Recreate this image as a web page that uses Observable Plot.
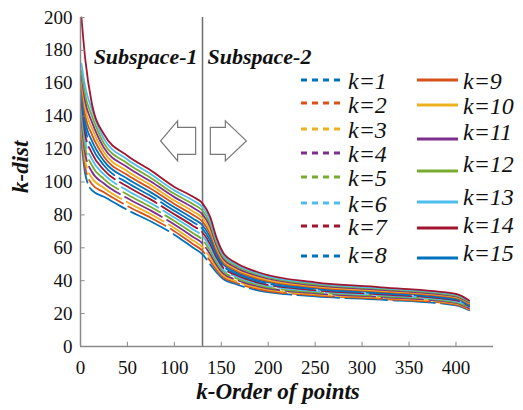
<!DOCTYPE html>
<html><head><meta charset="utf-8">
<script src="https://cdn.jsdelivr.net/npm/d3@7"></script>
<script src="https://cdn.jsdelivr.net/npm/@observablehq/plot@0.6"></script>
<style>
body{margin:0;background:#fff;font-family:"Liberation Serif",serif;}
#wrap{position:relative;width:523px;height:410px;}
.lg{position:absolute;font-family:"Liberation Serif",serif;font-style:italic;font-size:24px;line-height:24px;color:#111;white-space:nowrap;}
.ls{position:absolute;}
</style></head><body><div id="wrap"></div>
<script>
// x positions (order of points) at which each k-dist curve was read
const xs = [1,5,12,25,50,75,100,120,130,138,145,152,165,190,250,320,400,414];
const k1  = [125,105,95,91,83,76,68,60,56,50,45,41,38,34,30.5,28.5,25,22];
const k2  = [130,109,98.8,93.7,85.4,78.2,70.1,62.2,58.2,52.1,46.5,42.1,38.9,34.8,31.1,29.0,25.5,22.4];
const k3  = [134,113,102.6,96.4,87.7,80.4,72.1,64.4,60.4,54.1,48,43.3,39.9,35.6,31.7,29.6,26,22.9];
const k4  = [138,117,106.4,99.1,90.1,82.6,74.2,66.6,62.6,56.2,49.5,44.4,40.8,36.4,32.3,30.1,26.5,23.3];
const k5  = [142,121,110.2,101.8,92.4,84.8,76.3,68.8,64.8,58.3,51,45.6,41.7,37.2,32.9,30.7,27,23.7];
const k6  = [146,125,114,104.6,94.8,87.1,78.4,71.1,67.1,60.4,52.5,46.7,42.7,38,33.6,31.2,27.5,24.2];
const k7  = [150,129,117.7,107.3,97.2,89.3,80.4,73.3,69.3,62.4,54,47.9,43.6,38.7,34.2,31.7,28,24.6];
const k8  = [153,133,121.5,110,99.5,91.5,82.5,75.5,71.5,64.5,55.5,49,44.5,39.5,34.8,32.3,28.5,25];
const k9  = [159,141,129.1,115.4,104.2,95.9,86.6,79.9,75.9,68.6,58.5,51.3,46.4,41.1,36,33.4,29.5,25.9];
const k10 = [162,145,132.9,118.1,106.6,98.1,88.7,82.1,78.1,70.7,60,52.4,47.3,41.9,36.6,33.9,30,26.3];
const k11 = [165,149,136.7,120.8,109,100.3,90.8,84.3,80.3,72.8,61.5,53.5,48.2,42.7,37.2,34.4,30.5,26.7];
const k12 = [168,153,140.5,123.5,111.3,102.5,92.8,86.5,82.5,74.8,63,54.7,49.2,43.5,37.8,35,31,27.2];
const k13 = [172,158,144.3,126.2,113.7,104.7,94.9,88.7,84.7,76.9,64.5,55.8,50.1,44.2,38.4,35.5,31.5,27.6];
const k14 = [200,175,148,129,116,107,97,91,87,79,66,57,51,45,39,36,32,28];
const k15 = [156,137,125.3,112.7,101.9,93.7,84.6,77.7,73.7,66.6,57,50.1,45.4,40.3,35.4,32.8,29,25.4];

const kLabels = ["k=1","k=2","k=3","k=4","k=5","k=6","k=7","k=8","k=9","k=10","k=11","k=12","k=13","k=14","k=15"];
const seriesVals = [k1,k2,k3,k4,k5,k6,k7,k8,k9,k10,k11,k12,k13,k14,k15];
const colors = ["#0072BD","#D95319","#EDB120","#7E2F8E","#77AC30","#4DBEEE","#A2142F",
                "#0072BD","#D95319","#EDB120","#7E2F8E","#77AC30","#4DBEEE","#A2142F","#0072BD"];
const dashedK = [true,true,true,true,true,true,true,true,false,false,false,false,false,false,false];

const yTicks = [0,20,40,60,80,100,120,140,160,180,200];
const xTicks = [0,50,100,150,200,250,300,350,400];
const splitX = [130];
const sub1 = [{text:"Subspace-1", x:130, y:176}];
const sub2 = [{text:"Subspace-2", x:130, y:176}];
const arrowsL = [{x:104, y:125}];
const arrowsR = [{x:157.5, y:125}];

const FONT = "Liberation Serif, Times New Roman, Times, serif";

const leftArrow = {draw(ctx){
  ctx.moveTo(-17.5,0); ctx.lineTo(-0.5,-20); ctx.lineTo(-0.5,-13.5); ctx.lineTo(17.5,-13.5);
  ctx.lineTo(17.5,13.5); ctx.lineTo(-0.5,13.5); ctx.lineTo(-0.5,20); ctx.closePath();
}};
const rightArrow = {draw(ctx){
  ctx.moveTo(18,0); ctx.lineTo(-3,-20); ctx.lineTo(-3,-13.5); ctx.lineTo(-18,-13.5);
  ctx.lineTo(-18,13.5); ctx.lineTo(-3,13.5); ctx.lineTo(-3,20); ctx.closePath();
}};

const lineMarks = seriesVals.map((vals,i)=>{
  const rows = xs.map((x,j)=>({x, y:vals[j]}));
  return Plot.line(rows, {x:"x", y:"y", stroke:colors[i], strokeWidth:1.8,
    curve:"monotone-x", strokeDasharray: dashedK[i] ? "42,6" : null});
});
const order = [0,1,2,3,4,5,6,7,14,8,9,10,11,12,13];

const boldItalic = {fontWeight:"bold", fontStyle:"italic", fill:"#111", fontFamily:FONT};

const chart = Plot.plot({
  width:523, height:410,
  marginLeft:80, marginRight:30, marginTop:17, marginBottom:64,
  style:{fontFamily:FONT, fontSize:"19px", background:"transparent", color:"#111"},
  x:{domain:[0,440]},
  y:{domain:[0,200]},
  marks:[
    Plot.ruleX(splitX, {stroke:"#6e6e6e", strokeWidth:1.5}),
    ...order.map(i=>lineMarks[i]),
    Plot.ruleY([0], {stroke:"#8a8a8a", strokeWidth:1.5}),
    Plot.ruleX([0], {stroke:"#8a8a8a", strokeWidth:1.5}),
    Plot.ruleY(yTicks.filter(d=>d>0), {x1:0, x2:5, stroke:"#8a8a8a"}),
    Plot.ruleX(xTicks.filter(d=>d>0), {y1:0, y2:2.6, stroke:"#8a8a8a"}),
    Plot.axisY({ticks:yTicks, tickSize:0, tickPadding:8, label:null, fontSize:19, fontFamily:FONT}),
    Plot.axisX({ticks:xTicks, tickSize:0, tickPadding:14, label:null, fontSize:19, fontFamily:FONT}),
    Plot.dot(arrowsL, {x:"x", y:"y", symbol:leftArrow, fill:"white", stroke:"#777", strokeWidth:1.2}),
    Plot.dot(arrowsR, {x:"x", y:"y", symbol:rightArrow, fill:"white", stroke:"#777", strokeWidth:1.2}),
    Plot.text(sub1, {x:"x", y:"y", text:"text", textAnchor:"end", dx:-5, fontSize:22, ...boldItalic}),
    Plot.text(sub2, {x:"x", y:"y", text:"text", textAnchor:"start", dx:5, fontSize:22, ...boldItalic}),
    Plot.text(["k-Order of points"], {frameAnchor:"bottom", dx:-9, dy:52, fontSize:23, ...boldItalic}),
    Plot.text(["k-dist"], {frameAnchor:"left", dx:-60, dy:11, rotate:-90, fontSize:23, ...boldItalic})
  ]
});
document.getElementById("wrap").appendChild(chart);

// legend overlay (HTML)
const legendCol1 = {lineX1:301, lineX2:343, textX:348, lineY:[80,103,129,153,177,203,226,256], textY:[89,113,138,162,186,212,235,263]};
const legendCol2 = {lineX1:417, lineX2:458, textX:463, lineY:[80,105,139,171,202,228,258], textY:[89,114,140,172,205,233,261]};
const wrap = d3.select("#wrap");
kLabels.forEach((lab,i)=>{
  const col = i<8 ? legendCol1 : legendCol2;
  const r = i<8 ? i : i-8;
  const w = col.lineX2 - col.lineX1;
  const ls = wrap.append("svg").attr("class","ls").attr("width",w).attr("height",6)
    .style("left",col.lineX1+"px").style("top",(col.lineY[r]-3)+"px");
  ls.append("line").attr("x1",0).attr("x2",w).attr("y1",3).attr("y2",3)
    .attr("stroke",colors[i]).attr("stroke-width",3)
    .attr("stroke-dasharray", dashedK[i] ? "6,5" : null);
  wrap.append("div").attr("class","lg")
    .style("left",col.textX+"px").style("top",(col.textY[r]-20)+"px").text(lab);
});
</script></body></html>
